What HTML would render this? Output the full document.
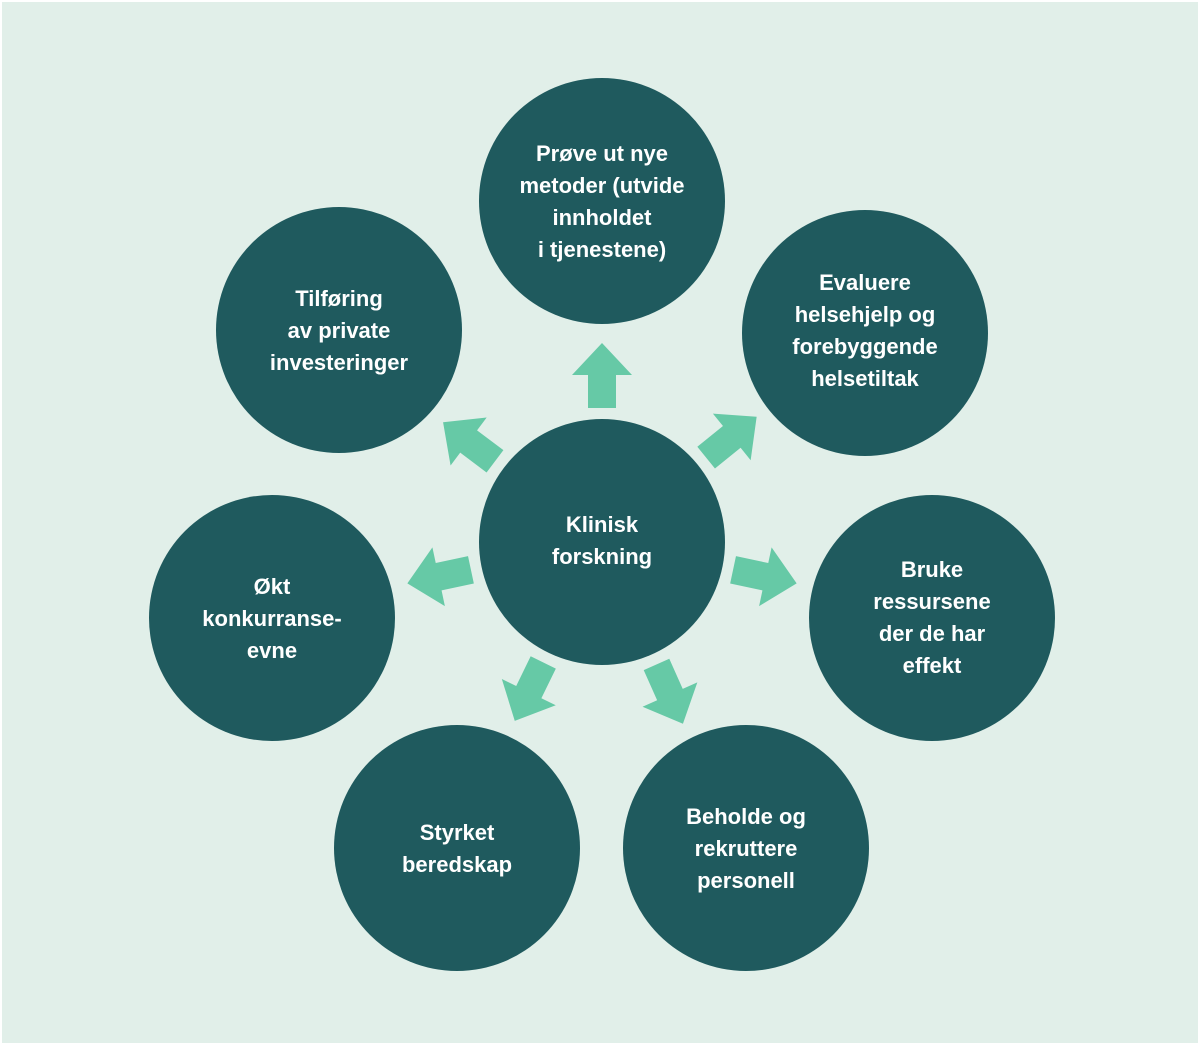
<!DOCTYPE html>
<html><head><meta charset="utf-8"><style>
html,body{margin:0;padding:0;background:#fff}
svg{display:block}
text{font-family:"Liberation Sans",sans-serif;font-size:22px;font-weight:bold;fill:#fff;text-anchor:middle}
</style></head><body>
<svg width="1200" height="1045" viewBox="0 0 1200 1045">
<rect x="2" y="2" width="1196" height="1041" fill="#e1efe9"/>
<g fill="#1f5a5e">
<circle cx="602" cy="542" r="123"/>
<circle cx="602" cy="201" r="123"/>
<circle cx="865" cy="333" r="123"/>
<circle cx="932" cy="618" r="123"/>
<circle cx="746" cy="848" r="123"/>
<circle cx="457" cy="848" r="123"/>
<circle cx="272" cy="618" r="123"/>
<circle cx="339" cy="330" r="123"/>
</g>
<defs><polygon id="ar" points="-14,-134 14,-134 14,-167 30,-167 0,-199 -30,-167 -14,-167"/></defs>
<g fill="#66c9a6" transform="translate(602,542)">
<use href="#ar" transform="rotate(0)"/>
<use href="#ar" transform="rotate(51)"/>
<use href="#ar" transform="rotate(102)"/>
<use href="#ar" transform="rotate(156)"/>
<use href="#ar" transform="rotate(-154)"/>
<use href="#ar" transform="rotate(-102)"/>
<use href="#ar" transform="rotate(-53)"/>
</g>
<text x="602" y="532">Klinisk</text><text x="602" y="564">forskning</text>
<text x="602" y="161">Prøve ut nye</text><text x="602" y="193">metoder (utvide</text><text x="602" y="225">innholdet</text><text x="602" y="257">i tjenestene)</text>
<text x="865" y="290">Evaluere</text><text x="865" y="322">helsehjelp og</text><text x="865" y="354">forebyggende</text><text x="865" y="386">helsetiltak</text>
<text x="932" y="577">Bruke</text><text x="932" y="609">ressursene</text><text x="932" y="641">der de har</text><text x="932" y="673">effekt</text>
<text x="746" y="824">Beholde og</text><text x="746" y="856">rekruttere</text><text x="746" y="888">personell</text>
<text x="457" y="840">Styrket</text><text x="457" y="872">beredskap</text>
<text x="272" y="594">Økt</text><text x="272" y="626">konkurranse-</text><text x="272" y="658">evne</text>
<text x="339" y="306">Tilføring</text><text x="339" y="338">av private</text><text x="339" y="370">investeringer</text>
</svg>
</body></html>
